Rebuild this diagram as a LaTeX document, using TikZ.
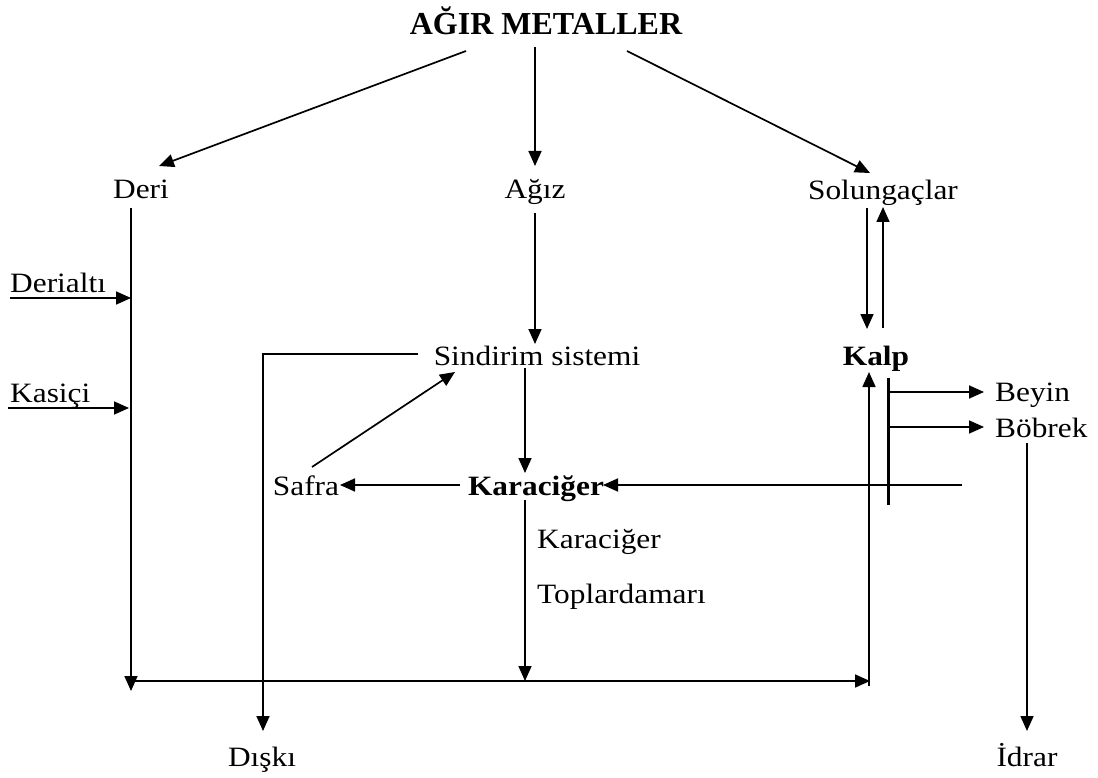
\documentclass[tikz,border=0pt]{standalone}
\usepackage{fontspec}
\setmainfont[FakeStretch=1.12]{Liberation Serif}
\newfontfamily\ttlfont{Liberation Serif}
\usetikzlibrary{arrows.meta}
\begin{document}
\begin{tikzpicture}[x=1pt,y=-1pt,
  lbl/.style={inner sep=0pt, anchor=base, font=\fontsize{28}{30}\selectfont},
  lblw/.style={lbl, anchor=base west},
  bld/.style={lbl, font=\fontsize{28}{30}\selectfont\bfseries},
  ttl/.style={inner sep=0pt, anchor=base, font=\ttlfont\fontsize{32}{34}\selectfont\bfseries},
  ln/.style={line width=1.7pt},
  arr/.style={ln, -{Triangle[length=15pt,width=13pt]}},
  thick bar/.style={line width=3pt}]
\useasboundingbox (0,0) rectangle (1098,778);
% labels
\node[ttl] (title) at (546,35) {AĞIR METALLER};
\node[lbl] (deri) at (141,199) {Deri};
\node[lbl] (agiz) at (535,199) {Ağız};
\node[lbl] (sol) at (883,200) {Solungaçlar};
\node[lblw] (derialti) at (10,292) {Derialtı};
\node[lblw] (kasici) at (10,402) {Kasiçi};
\node[lbl] (sind) at (537,365) {Sindirim sistemi};
\node[bld] (kalp) at (876,365) {Kalp};
\node[lblw] (beyin) at (995,401) {Beyin};
\node[lblw] (bobrek) at (995,437) {Böbrek};
\node[lbl] (safra) at (306,495) {Safra};
\node[bld] (kc) at (536,495) {Karaciğer};
\node[lblw] (kclbl) at (537,548) {Karaciğer};
\node[lblw] (top) at (537,603) {Toplardamarı};
\node[lbl] (diski) at (262,766) {Dışkı};
\node[lbl] (idrar) at (1027,766) {İdrar};
% coordinates
\coordinate (t1) at (466,51);   \coordinate (d1) at (159,166);
\coordinate (t2) at (535,47);   \coordinate (a1) at (535,166);
\coordinate (t3) at (627,51);   \coordinate (s1) at (870,173);
\coordinate (dtop) at (131,208); \coordinate (dbot) at (131,691);
\coordinate (da0) at (10,298);  \coordinate (da1) at (131,298);
\coordinate (ka0) at (8,408);   \coordinate (ka1) at (129,408);
\coordinate (ag0) at (535,213); \coordinate (ag1) at (535,344);
\coordinate (si0) at (418,354); \coordinate (si1) at (263,354); \coordinate (dk) at (263,731);
\coordinate (sf0) at (312,467); \coordinate (sf1) at (455,372);
\coordinate (sk0) at (525,368); \coordinate (sk1) at (525,473);
\coordinate (ks0) at (460,485); \coordinate (ks1) at (340,485);
\coordinate (rk0) at (962,485); \coordinate (rk1) at (603,485);
\coordinate (kt0) at (525,500); \coordinate (kt1) at (525,681);
\coordinate (bl0) at (131,681); \coordinate (bl1) at (870,681);
\coordinate (ku0) at (869,686); \coordinate (ku1) at (869,372);
\coordinate (sd0) at (867,208); \coordinate (sd1) at (867,329);
\coordinate (su0) at (883,328); \coordinate (su1) at (883,207);
\coordinate (bar0) at (888,378); \coordinate (bar1) at (888,505);
\coordinate (by0) at (888,392); \coordinate (by1) at (984,392);
\coordinate (bb0) at (888,427); \coordinate (bb1) at (984,427);
\coordinate (id0) at (1027,443); \coordinate (id1) at (1027,731);
% connectors
\draw[arr] (t1) -- (d1);
\draw[arr] (t2) -- (a1);
\draw[arr] (t3) -- (s1);
\draw[arr] (dtop) -- (dbot);
\draw[arr] (da0) -- (da1);
\draw[arr] (ka0) -- (ka1);
\draw[arr] (ag0) -- (ag1);
\draw[arr] (si0) -- (si1) -- (dk);
\draw[arr] (sf0) -- (sf1);
\draw[arr] (sk0) -- (sk1);
\draw[arr] (ks0) -- (ks1);
\draw[arr] (rk0) -- (rk1);
\draw[arr] (kt0) -- (kt1);
\draw[arr] (bl0) -- (bl1);
\draw[arr] (ku0) -- (ku1);
\draw[arr] (sd0) -- (sd1);
\draw[arr] (su0) -- (su1);
\draw[thick bar] (bar0) -- (bar1);
\draw[arr] (by0) -- (by1);
\draw[arr] (bb0) -- (bb1);
\draw[arr] (id0) -- (id1);
\end{tikzpicture}
\end{document}
